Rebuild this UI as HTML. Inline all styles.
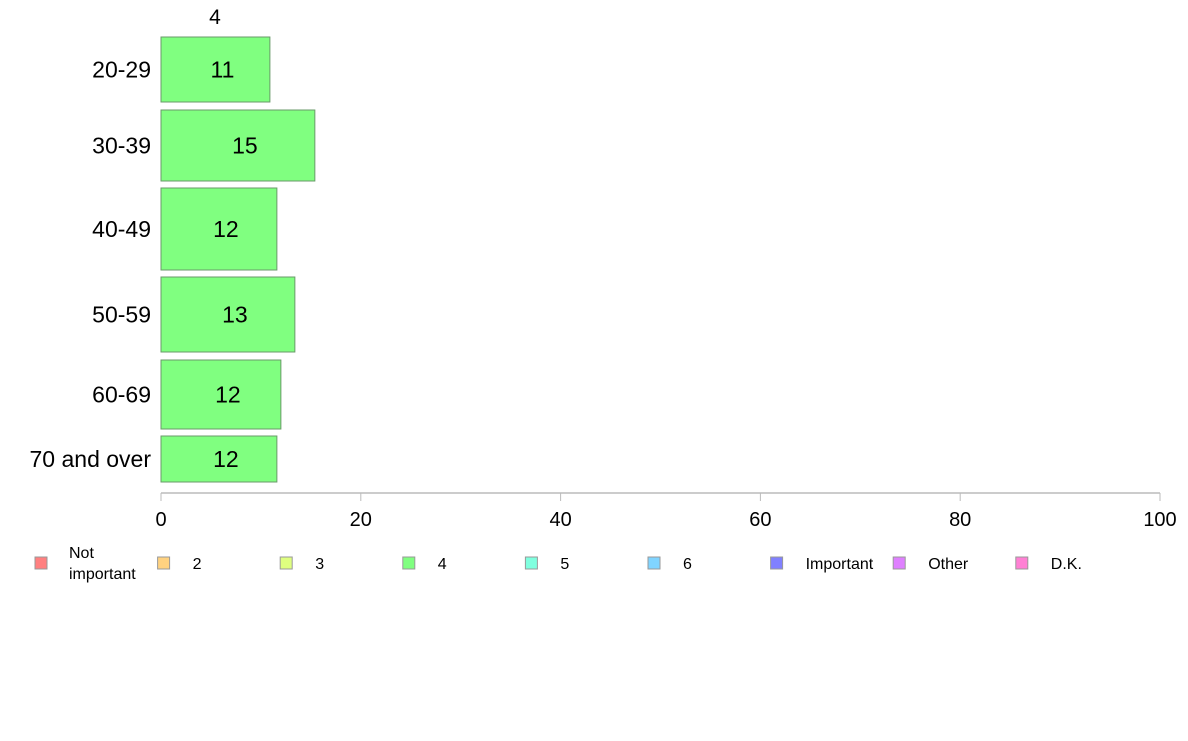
<!DOCTYPE html>
<html><head><meta charset="utf-8"><style>
body{margin:0;background:#fff;font-family:"Liberation Sans",Arial,sans-serif}
svg text{font-family:"Liberation Sans",Arial,sans-serif}
</style></head><body>
<svg id="chart" width="1188" height="736" viewBox="0 0 1188 736" xmlns="http://www.w3.org/2000/svg">
<rect width="1188" height="736" fill="#fff"/>
<g id="bars"></g><g id="axis"></g><g id="legend"></g>
<text x="215" y="24" font-size="21" text-anchor="middle">4</text>
</svg>
<script>
const categories = ["20-29","30-39","40-49","50-59","60-69","70 and over"];
const values = [10.9, 15.4, 11.6, 13.4, 12.0, 11.6];
const labels = ["11","15","12","13","12","12"];
const ticks = [0,20,40,60,80,100];
const legendNames = ["Not\nimportant","2","3","4","5","6","Important","Other","D.K."];
const legendColors = ["#ff8080","#ffd280","#dfff80","#80ff80","#80ffdf","#80d4ff","#8080ff","#df80ff","#ff80d4"];
const NS="http://www.w3.org/2000/svg";
const x0=161,x1=1160;
const xs=v=>x0+(x1-x0)*v/100;
const bandTop=[37,110,188,277,360,436], bandH=[65,71,82,75,69,46];
function mk(t,a,p){const e=document.createElementNS(NS,t);for(const k in a)e.setAttribute(k,a[k]);p.appendChild(e);return e;}
const gb=document.getElementById('bars');
categories.forEach((c,i)=>{
  const y=bandTop[i],h=bandH[i];
  const r=mk('rect',{x:x0,y:y,width:xs(values[i])-x0,height:h,fill:'#80ff80',stroke:'#6a9a6a','stroke-width':1},gb);
  
  
  const t=mk('text',{x:(x0+xs(values[i]))/2+7,y:y+h/2+8,'font-size':23,'text-anchor':'middle'},gb);t.textContent=labels[i];
  
  
  const l=mk('text',{x:151,y:y+h/2+8,'font-size':23,'text-anchor':'end'},gb);l.textContent=c;
  
  
});
const ga=document.getElementById('axis');
const al=mk('line',{x1:x0,x2:x1,y1:493,y2:493,stroke:'#999','stroke-width':1},ga);


ticks.forEach(v=>{
  mk('line',{x1:xs(v),x2:xs(v),y1:493,y2:501,stroke:'#bbb','stroke-width':1},ga);
  const t=mk('text',{x:xs(v),y:526,'font-size':20,'text-anchor':'middle'},ga);t.textContent=v;
  
  
});
const gl=document.getElementById('legend');
legendNames.forEach((n,i)=>{
  const x=40+i*122.6;
  const g=mk('g',{},gl);
  
  
  mk('rect',{x:x-5,y:557,width:12,height:12,fill:legendColors[i],stroke:'#999','stroke-width':1},g);
  const parts=n.split('\n');
  if(parts.length>1){
    parts.forEach((p,j)=>{const t=mk('text',{x:x+29,y:558+j*21,'font-size':16},g);t.textContent=p;});
  } else {const t=mk('text',{x:x+30,y:569,'font-size':16},g);t.textContent=n;}
});
</script>
</body></html>
